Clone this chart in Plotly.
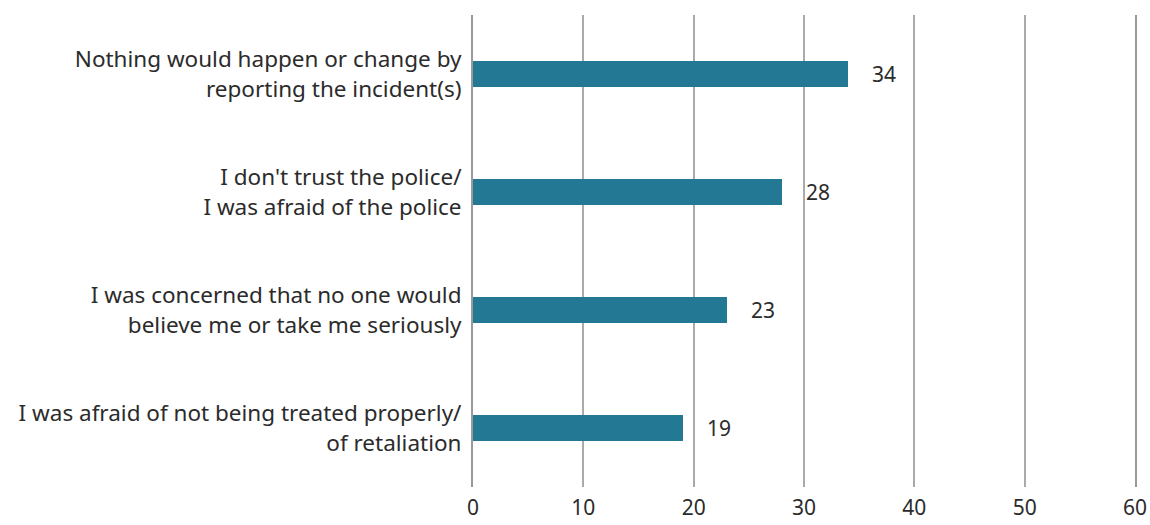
import plotly.graph_objects as go

# Reasons for not reporting the incident(s), in %
categories = [
    "Nothing would happen or change by<br>reporting the incident(s)",
    "I don't trust the police/<br>I was afraid of the police",
    "I was concerned that no one would<br>believe me or take me seriously",
    "I was afraid of not being treated properly/<br>of retaliation",
]
values = [34, 28, 23, 19]
x_ticks = [0, 10, 20, 30, 40, 50, 60]

BAR = "#237894"
TEXT = "#2b2b2b"
GRID = "#aaaaaa"
AXIS = "#999999"
FONT = "Noto Sans, Open Sans, sans-serif"

fig = go.Figure(
    go.Bar(
        x=values,
        y=categories,
        orientation="h",
        width=0.22,
        marker=dict(color=BAR, line=dict(width=0)),
        hoverinfo="skip",
    )
)

for v, c in zip(values, categories):
    fig.add_annotation(
        x=v, y=c, text=str(v), showarrow=False,
        xanchor="left", xshift=22,
        font=dict(size=21, color=TEXT, family=FONT),
    )

fig.update_layout(
    width=1150, height=525,
    margin=dict(l=473, r=15, t=15, b=38),
    plot_bgcolor="white", paper_bgcolor="white",
    showlegend=False,
    font=dict(family=FONT, color=TEXT),
    bargap=0,
)
fig.update_xaxes(
    range=[0, 60], tickvals=x_ticks, ticktext=[str(t) for t in x_ticks],
    showgrid=True, gridcolor=GRID, gridwidth=1.5,
    zeroline=False, showline=False, ticks="",
    tickfont=dict(size=21, color=TEXT, family=FONT),
    ticklabelstandoff=6, automargin=False, fixedrange=True,
)
fig.update_yaxes(
    autorange="reversed", showgrid=False, zeroline=False,
    showline=True, linecolor=AXIS, linewidth=2, mirror=True, ticks="",
    tickfont=dict(size=22.5, color=TEXT, family=FONT),
    ticklabelstandoff=5, automargin=False, fixedrange=True,
)

fig.write_html("out.html", config={"displayModeBar": False})
